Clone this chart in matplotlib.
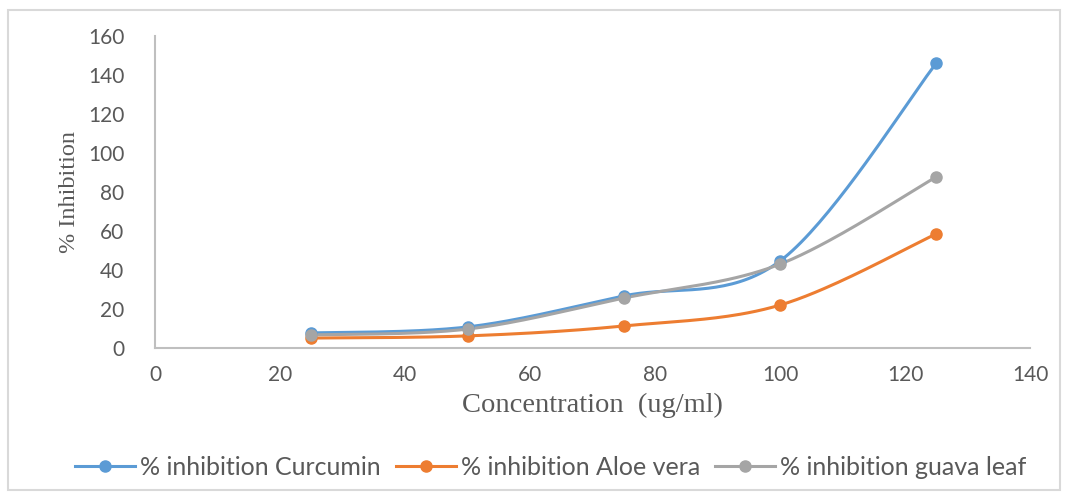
import numpy as np
import matplotlib
matplotlib.use('Agg')
import matplotlib.pyplot as plt
from matplotlib.patches import Rectangle

conc = [25, 50, 75, 100, 125]
curcumin = [7.7, 10.8, 26.7, 44.6, 146]
aloe_vera = [5.1, 6.2, 11.3, 22, 58.5]
guava_leaf = [6.7, 9.7, 25.6, 43, 87.7]

names = ['% inhibition Curcumin', '% inhibition Aloe vera', '% inhibition guava leaf']
colors = ['#5B9BD5', '#ED7D31', '#A5A5A5']


def smooth(x, y, n=40):
    # spreadsheet-style smoothed line: cubic bezier through each point pair
    p = np.column_stack([x, y]).astype(float)
    p = np.vstack([p[0], p, p[-1]])
    t = np.linspace(0, 1, n)[:, None]
    segs = []
    for i in range(1, len(p) - 2):
        a, b = p[i], p[i + 1]
        c1 = a + (p[i + 1] - p[i - 1]) / 6
        c2 = b - (p[i + 2] - p[i]) / 6
        segs.append((1 - t)**3 * a + 3 * (1 - t)**2 * t * c1 + 3 * (1 - t) * t**2 * c2 + t**3 * b)
    s = np.vstack(segs)
    return s[:, 0], s[:, 1]


fig = plt.figure(figsize=(10.67, 4.97), dpi=100)
fig.patches.append(Rectangle((8 / 1067, 7 / 497), 1052 / 1067, 480 / 497, transform=fig.transFigure,
                             fill=False, edgecolor='#D9D9D9', linewidth=1.5))
ax = fig.add_axes([0.1453, 0.2998, 0.82, 0.6278])

tick_font = 'Lato'
serif = 'Liberation Serif'

handles = []
for ys, c, name in zip([curcumin, aloe_vera, guava_leaf], colors, names):
    sx, sy = smooth(conc, ys)
    ax.plot(sx, sy, color=c, lw=2.2, solid_capstyle='round', zorder=2)
    ax.plot(conc, ys, 'o', color=c, ms=8, zorder=3)
    h, = ax.plot([], [], '-o', color=c, lw=2.2, ms=8, label=name)
    handles.append(h)

ax.set_xlim(0, 140)
ax.set_ylim(0, 160)
ax.set_xticks(range(0, 141, 20))
ax.set_yticks(range(0, 161, 20))
for s in ['top', 'right']:
    ax.spines[s].set_visible(False)
for s in ['left', 'bottom']:
    ax.spines[s].set_color('#BFBFBF')
    ax.spines[s].set_linewidth(1.5)
ax.tick_params(length=0, labelsize=15, colors='#595959')
ax.tick_params(axis='y', pad=22)
ax.tick_params(axis='x', pad=12)
for lab in ax.get_xticklabels() + ax.get_yticklabels():
    lab.set_fontfamily(tick_font)

ax.set_xlabel('Concentration  (ug/ml)', fontsize=20.5, family=serif, color='#595959', labelpad=6)
ax.set_ylabel('% Inhibition', fontsize=17.5, family=serif, color='#595959', labelpad=6)

fig.legend(handles=handles, loc='center', bbox_to_anchor=(0.516, 0.06), ncol=3, frameon=False,
           prop={'family': tick_font, 'size': 18}, labelcolor='#595959',
           handlelength=2.4, handletextpad=0.2, columnspacing=0.6)

fig.savefig('out.png', dpi=100)
